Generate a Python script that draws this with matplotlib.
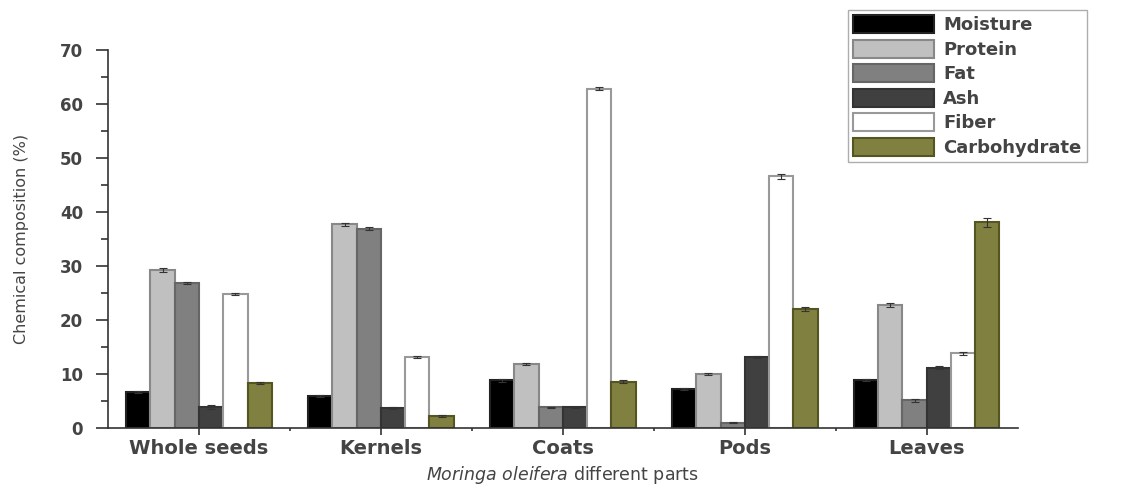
import numpy as np
import matplotlib
matplotlib.use("Agg")
import matplotlib.pyplot as plt
from matplotlib.ticker import MultipleLocator, FixedLocator

plt.rcParams["font.family"] = ["DejaVu Sans"]
plt.rcParams["mathtext.fontset"] = "custom"
plt.rcParams["mathtext.rm"] = "DejaVu Sans"
plt.rcParams["mathtext.it"] = "DejaVu Sans:italic"

parts = ["Whole seeds", "Kernels", "Coats", "Pods", "Leaves"]
components = ["Moisture", "Protein", "Fat", "Ash", "Fiber", "Carbohydrate"]

moisture = [6.6, 5.9, 8.8, 7.2, 8.9]
protein = [29.2, 37.7, 11.9, 10.0, 22.8]
fat = [26.8, 36.9, 3.8, 1.0, 5.1]
ash = [3.9, 3.7, 3.8, 13.1, 11.2]
fiber = [24.8, 13.1, 62.8, 46.6, 13.8]
carbohydrate = [8.3, 2.3, 8.6, 22.0, 38.1]

moisture_err = [0.2, 0.2, 0.2, 0.2, 0.2]
protein_err = [0.4, 0.3, 0.2, 0.2, 0.3]
fat_err = [0.2, 0.3, 0.1, 0.1, 0.2]
ash_err = [0.3, 0.2, 0.1, 0.2, 0.3]
fiber_err = [0.2, 0.2, 0.3, 0.5, 0.2]
carbohydrate_err = [0.2, 0.2, 0.2, 0.4, 0.8]

fills = ["#000000", "#c0c0c0", "#808080", "#404040", "#ffffff", "#808040"]
edges = ["#222222", "#888888", "#666666", "#333333", "#999999", "#555522"]

series = [moisture, protein, fat, ash, fiber, carbohydrate]
errors = [moisture_err, protein_err, fat_err, ash_err, fiber_err, carbohydrate_err]

text_color = "#444444"

fig = plt.figure(figsize=(11.3, 4.9), dpi=100)
ax = fig.add_axes([0.0956, 0.1265, 0.805, 0.7715])

x = np.arange(1, len(parts) + 1)
width = 0.8 / len(components)
for i, (vals, err) in enumerate(zip(series, errors)):
    offset = (i - (len(components) - 1) / 2) * width
    ax.bar(x + offset, vals, width, yerr=err, color=fills[i], edgecolor=edges[i],
           linewidth=1.5, label=components[i],
           error_kw=dict(ecolor="#333333", elinewidth=0.8, capsize=3, capthick=0.8))

ax.set_xlim(0.5, 5.5)
ax.set_ylim(0, 70)
ax.yaxis.set_major_locator(MultipleLocator(10))
ax.yaxis.set_minor_locator(MultipleLocator(5))
ax.set_xticks(x)
ax.set_xticklabels(parts)
ax.xaxis.set_minor_locator(FixedLocator(x[:-1] + 0.5))

for side in ("top", "right"):
    ax.spines[side].set_visible(False)
for side in ("left", "bottom"):
    ax.spines[side].set_color("#333333")
    ax.spines[side].set_linewidth(1.2)

ax.tick_params(axis="both", which="both", color="#333333", width=1.2, direction="out")
ax.tick_params(axis="y", which="major", length=9, pad=9)
ax.tick_params(axis="y", which="minor", length=5)
ax.tick_params(axis="x", which="major", length=5, pad=3)
ax.tick_params(axis="x", which="minor", length=2.5)
for lab in ax.get_xticklabels():
    lab.set_fontsize(14)
    lab.set_fontweight("bold")
    lab.set_color(text_color)
for lab in ax.get_yticklabels():
    lab.set_fontsize(12)
    lab.set_fontweight("bold")
    lab.set_color(text_color)

ax.set_ylabel("Chemical composition (%)", fontsize=11.5, color=text_color, labelpad=22)
ax.set_xlabel(r"$\it{Moringa\ oleifera}$ different parts", fontsize=12.5,
              color=text_color, labelpad=4)

leg = fig.legend(loc="upper left", bbox_to_anchor=(0.75, 0.98),
                 prop=dict(size=13, weight="bold"),
                 handlelength=4.5, handleheight=1.15, handletextpad=0.5,
                 labelspacing=0.3, borderpad=0.3, borderaxespad=0,
                 frameon=True, fancybox=False, edgecolor="#999999")
for t in leg.get_texts():
    t.set_color(text_color)

fig.savefig("out.png", dpi=100)
